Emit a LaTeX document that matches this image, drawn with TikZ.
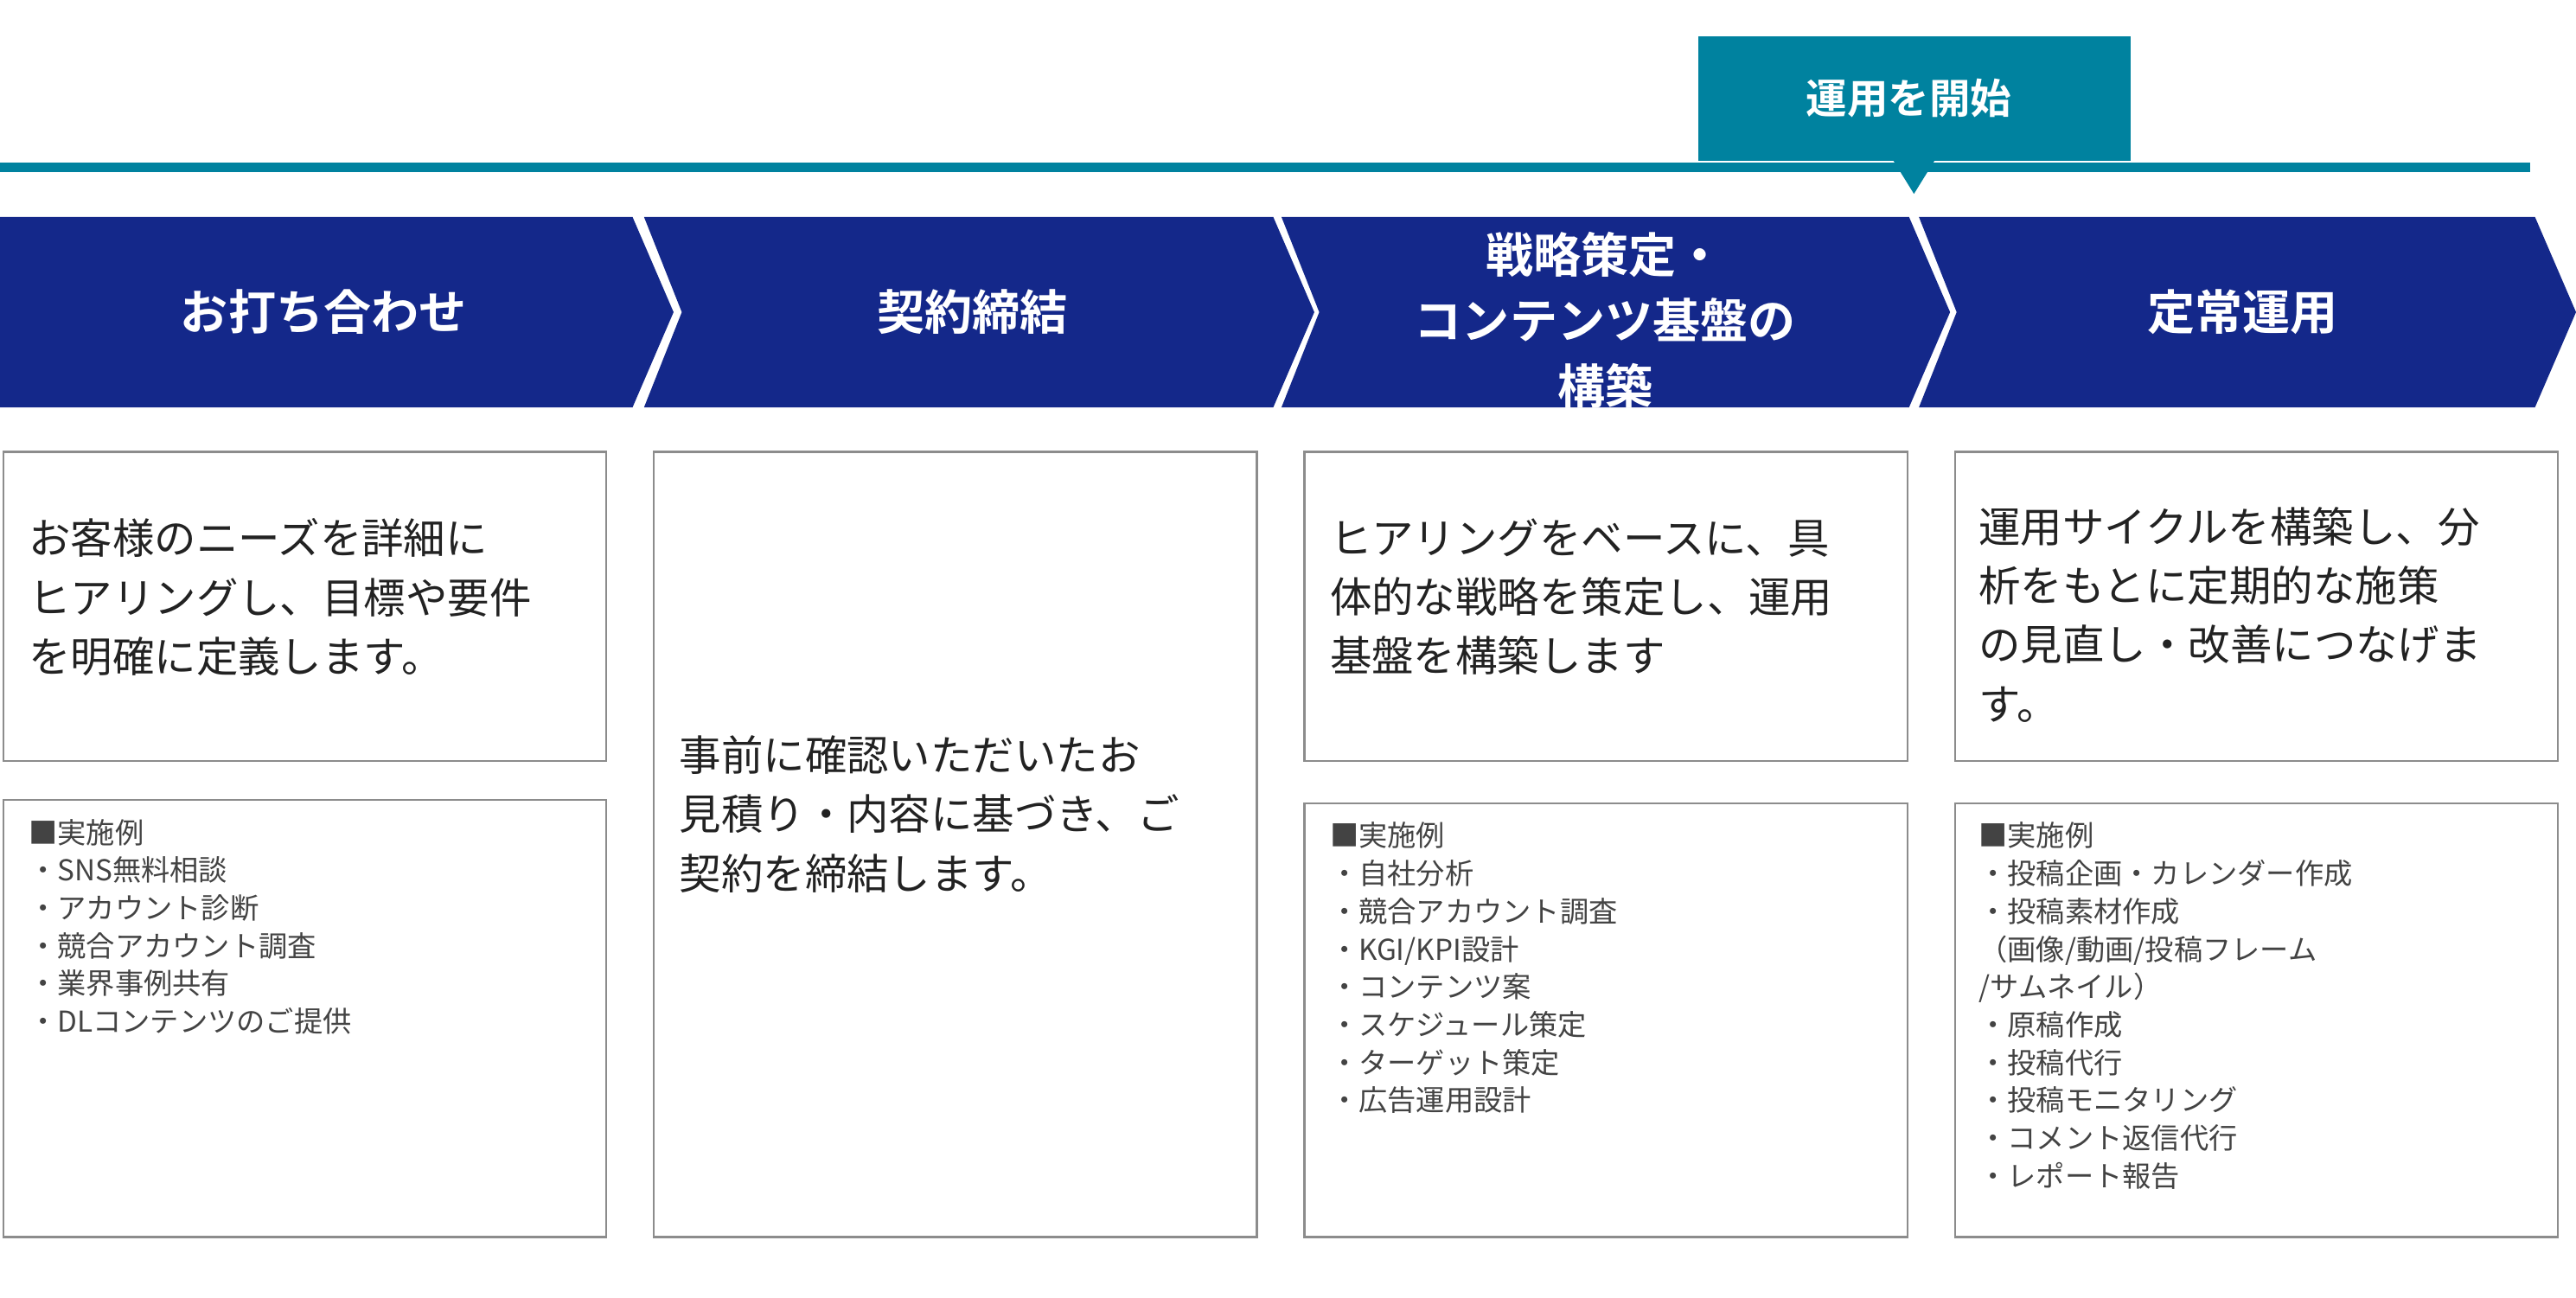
\documentclass[tikz,border=0pt]{standalone}
\usepackage{fontspec}
\setmainfont{Noto Sans CJK JP}
\newfontfamily\jpb{Noto Sans CJK JP Bold}
\definecolor{navy}{HTML}{14288A}
\definecolor{teal}{HTML}{00829F}
\definecolor{bord}{HTML}{8C8C8C}
\definecolor{txt}{HTML}{222222}
\begin{document}
\begin{tikzpicture}[x=1pt,y=-1pt,
  chev/.style={fill=navy,draw=none},
  box/.style={draw=bord,line width=1.2pt,fill=white},
  head/.style={text=white,font=\jpb\fontsize{29}{40}\selectfont,align=center},
  body/.style={anchor=north west,align=left,text=txt,font=\fontsize{25.5}{36}\selectfont},
  lst/.style={anchor=north west,align=left,text=txt!85,font=\fontsize{17.5}{23}\selectfont}]
\useasboundingbox (0,0) rectangle (1568,790);
% timeline
\draw[teal,line width=6pt] (0,102) -- (1540,102);
\fill[teal] (1034,22) rectangle (1297,98);
\fill[teal] (1152,97) -- (1178,97) -- (1165,118) -- cycle;
\node[text=white,font=\jpb\fontsize{25}{30}\selectfont] (start) at (1162,60) {運用を開始};
% chevrons
\fill[chev] (0,132) -- (385,132) -- (410,190) -- (385,248) -- (0,248) -- cycle;
\fill[chev] (392,132) -- (775,132) -- (800,190) -- (775,248) -- (392,248) -- (415,190) -- cycle;
\fill[chev] (780,132) -- (1162,132) -- (1187,190) -- (1162,248) -- (780,248) -- (803,190) -- cycle;
\fill[chev] (1168,132) -- (1543,132) -- (1568,190) -- (1543,248) -- (1168,248) -- (1191,190) -- cycle;
\node[head] (h1) at (197,190) {お打ち合わせ};
\node[head] (h2) at (592,190) {契約締結};
\node[head] (h3) at (977,195) {戦略策定・\\コンテンツ基盤の\\構築};
\node[head] (h4) at (1365,190) {定常運用};
% boxes
\draw[box] (2,275) rectangle (369,463);
\draw[box] (2,487) rectangle (369,753);
\draw[box] (398,275) rectangle (765,753);
\draw[box] (794,275) rectangle (1161,463);
\draw[box] (794,489) rectangle (1161,753);
\draw[box] (1190,275) rectangle (1557,463);
\draw[box] (1190,489) rectangle (1557,753);
\node[body] (b1) at (14,312) {お客様のニーズを詳細に\\ヒアリングし、目標や要件\\を明確に定義します。};
\node[body] (b2) at (410,444) {事前に確認いただいたお\\見積り・内容に基づき、ご\\契約を締結します。};
\node[body] (b3) at (806,312) {ヒアリングをベースに、具\\体的な戦略を策定し、運用\\基盤を構築します};
\node[body] (b4) at (1201,305) {運用サイクルを構築し、分\\析をもとに定期的な施策\\の見直し・改善につなげま\\す。};
\node[lst] (l1) at (14,495) {■実施例\\・SNS無料相談\\・アカウント診断\\・競合アカウント調査\\・業界事例共有\\・DLコンテンツのご提供};
\node[lst] (l3) at (806,497) {■実施例\\・自社分析\\・競合アカウント調査\\・KGI/KPI設計\\・コンテンツ案\\・スケジュール策定\\・ターゲット策定\\・広告運用設計};
\node[lst] (l4) at (1201,497) {■実施例\\・投稿企画・カレンダー作成\\・投稿素材作成\\（画像/動画/投稿フレーム\\/サムネイル）\\・原稿作成\\・投稿代行\\・投稿モニタリング\\・コメント返信代行\\・レポート報告};
\end{tikzpicture}
\end{document}
